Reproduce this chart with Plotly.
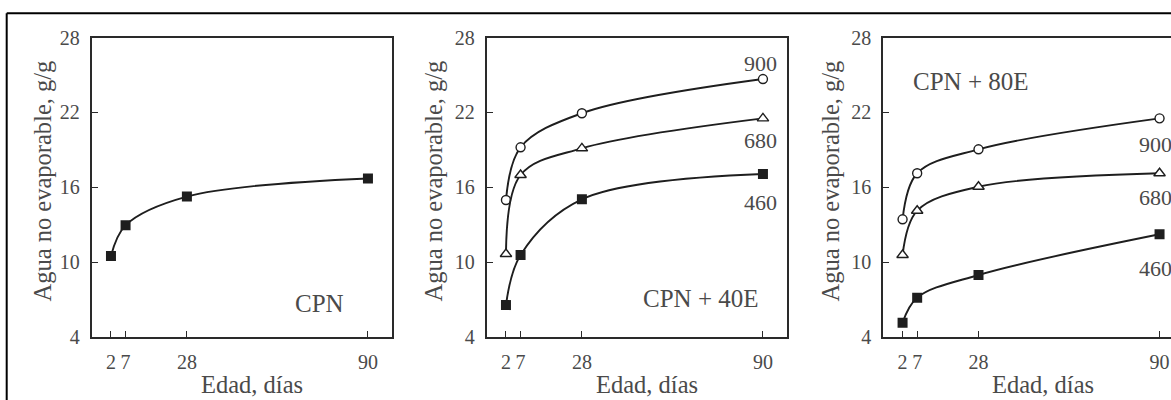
import plotly.graph_objects as go

W, H = 1171, 400

# ---- data ----
days = [2, 7, 28, 90]
x_tick_vals = [2, 7, 28, 90]
x_tick_text = ["2", "7", "28", "90"]
y_tick_vals = [4, 10, 16, 22, 28]
y_tick_text = ["4", "10", "16", "22", "28"]

cpn_values = [10.5, 12.95, 15.25, 16.7]

e40_900 = [14.98, 19.2, 21.93, 24.67]
e40_680 = [10.65, 16.98, 19.12, 21.52]
e40_460 = [6.56, 10.57, 15.03, 17.06]

e80_900 = [13.43, 17.12, 19.04, 21.52]
e80_680 = [10.57, 14.12, 16.04, 17.12]
e80_460 = [5.15, 7.15, 8.97, 12.23]

panel_names = ["CPN", "CPN + 40E", "CPN + 80E"]
series_names = ["900", "680", "460"]
y_title = "Agua no evaporable, g/g"
x_title = "Edad, días"

# ---- styling ----
INK = "#1e1e1e"
TXT = "#4a4a4a"
FONT = "Liberation Serif"


def fx(px):
    return px / W


def fy(py):
    return 1 - py / H


marker_styles = {
    "900": dict(symbol="circle", size=9, color="white", line=dict(color=INK, width=1.4)),
    "680": dict(symbol="triangle-up", size=10, color="white", line=dict(color=INK, width=1.4)),
    "460": dict(symbol="square", size=10, color=INK, line=dict(color=INK, width=0)),
}

fig = go.Figure()


def add_series(vals, name, axis_idx):
    suffix = "" if axis_idx == 1 else str(axis_idx)
    fig.add_trace(go.Scatter(
        x=days, y=vals, mode="lines+markers", name=name,
        line=dict(color=INK, width=1.9, shape="spline", smoothing=1.0),
        marker=marker_styles[name],
        xaxis="x" + suffix, yaxis="y" + suffix, showlegend=False,
    ))


add_series(cpn_values, "460", 1)
add_series(e40_900, "900", 2)
add_series(e40_680, "680", 2)
add_series(e40_460, "460", 2)
add_series(e80_900, "900", 3)
add_series(e80_680, "680", 3)
add_series(e80_460, "460", 3)

x_domains = [[91.7, 392.3], [486.7, 787.3], [883.3, 1171.0]]
x_ranges = [[-4.6, 98.34], [-4.6, 98.34], [-4.6, 93.92]]
y_dom = [fy(337.0), fy(37.5)]

layout = dict(
    width=W, height=H, autosize=False,
    margin=dict(l=0, r=0, t=0, b=0, pad=0, autoexpand=False),
    paper_bgcolor="white", plot_bgcolor="white",
    font=dict(family=FONT, color=TXT),
    showlegend=False,
)

for i in range(3):
    s = "" if i == 0 else str(i + 1)
    layout["xaxis" + s] = dict(
        domain=[fx(x_domains[i][0]), fx(x_domains[i][1])],
        range=x_ranges[i], anchor="y" + s, automargin=False,
        showline=True, mirror=True, linecolor="#2a2a2a", linewidth=2,
        ticks="inside", ticklen=6, tickwidth=1.3, tickcolor="#2a2a2a",
        tickvals=x_tick_vals, ticktext=x_tick_text,
        tickfont=dict(family=FONT, size=20, color=TXT),
        ticklabelstandoff=6,
        showgrid=False, zeroline=False, fixedrange=True,
    )
    layout["yaxis" + s] = dict(
        domain=y_dom, range=[4, 28], anchor="x" + s, automargin=False,
        showline=True, mirror=(i < 2), linecolor="#2a2a2a", linewidth=2,
        ticks="inside", ticklen=6, tickwidth=1.3, tickcolor="#2a2a2a",
        tickvals=y_tick_vals, ticktext=y_tick_text,
        tickfont=dict(family=FONT, size=20, color=TXT),
        ticklabelstandoff=6,
        showgrid=False, zeroline=False, fixedrange=True,
    )

fig.update_layout(**layout)

ann = []
# axis titles
for cx in [42, 433, 830]:
    ann.append(dict(x=fx(cx), y=fy(181.5), xref="paper", yref="paper", text=y_title,
                    textangle=-90, showarrow=False, xanchor="center", yanchor="middle",
                    font=dict(family=FONT, size=24.5, color=TXT)))
for i in range(3):
    ann.append(dict(x=fx(x_domains[i][0] + 160), y=fy(384), xref="paper", yref="paper",
                    text=x_title, showarrow=False, xanchor="center", yanchor="middle",
                    font=dict(family=FONT, size=24.5, color=TXT)))

# panel labels
for name, (cx, cy) in zip(panel_names, [(319, 303.3), (700.8, 298.3), (970.8, 81.7)]):
    ann.append(dict(x=fx(cx), y=fy(cy), xref="paper", yref="paper", text=name,
                    showarrow=False, xanchor="center", yanchor="middle",
                    font=dict(family=FONT, size=25, color=TXT)))

# series labels
for name, (cx, cy) in zip(series_names, [(760, 63.5), (760, 140), (760, 202)]):
    ann.append(dict(x=fx(cx), y=fy(cy), xref="paper", yref="paper", text=name,
                    showarrow=False, xanchor="center", yanchor="middle",
                    font=dict(family=FONT, size=22, color=TXT)))
for name, (cx, cy) in zip(series_names, [(1155, 144.5), (1155, 197.5), (1155, 268.5)]):
    ann.append(dict(x=fx(cx), y=fy(cy), xref="paper", yref="paper", text=name,
                    showarrow=False, xanchor="center", yanchor="middle",
                    font=dict(family=FONT, size=22, color=TXT)))

fig.update_layout(annotations=ann)

# outer frame (top and left edges)
fig.add_shape(type="line", xref="paper", yref="paper",
              x0=fx(6.7), y0=fy(13.3), x1=1, y1=fy(13.3),
              line=dict(color="black", width=2))
fig.add_shape(type="line", xref="paper", yref="paper",
              x0=fx(6.7), y0=fy(13.3), x1=fx(6.7), y1=0,
              line=dict(color="black", width=2))

fig.write_html(
    "out.html",
    post_script="document.body.style.margin='0';document.body.style.overflow='hidden';",
)
